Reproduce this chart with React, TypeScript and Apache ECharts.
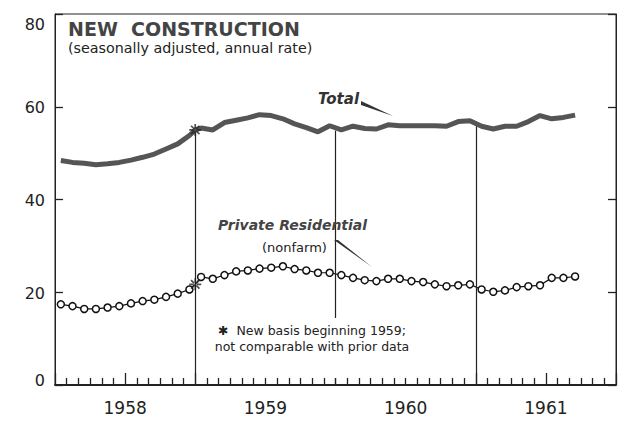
import React, { useEffect, useRef } from 'react';
import * as echarts from 'echarts';

// ---- data (billions of dollars, seasonally adjusted annual rate) ----
const yearLabels = ['1958', '1959', '1960', '1961'];
const yTickValues = [0, 20, 40, 60, 80];

const total1958 = [48.4, 48.0, 47.8, 47.5, 47.7, 48.0, 48.5, 49.1, 49.8, 50.9, 52.0, 53.8];
const total1959 = [55.4, 55.0, 56.6, 57.1, 57.6, 58.3, 58.1, 57.4, 56.3, 55.5, 54.6, 55.9];
const total1960 = [55.0, 55.8, 55.3, 55.2, 56.1, 55.9, 55.9, 55.9, 55.9, 55.8, 56.8, 57.0];
const total1961 = [55.8, 55.2, 55.8, 55.8, 56.8, 58.1, 57.4, 57.7, 58.2];
const totalNewBasis = 55.0;

const resid1958 = [17.4, 17.0, 16.4, 16.4, 16.7, 17.0, 17.6, 18.1, 18.4, 19.0, 19.7, 20.6];
const resid1959 = [23.3, 22.9, 23.7, 24.5, 24.7, 25.1, 25.3, 25.6, 25.0, 24.7, 24.2, 24.2];
const resid1960 = [23.7, 23.1, 22.6, 22.4, 22.9, 22.9, 22.4, 22.2, 21.7, 21.3, 21.5, 21.7];
const resid1961 = [20.6, 20.1, 20.4, 21.1, 21.3, 21.5, 23.1, 23.1, 23.4];
const residNewBasis = 21.7;

const newBasisMonth = 12; // boundary: start of 1959
const yearBoundaries = [12, 24, 36];

const totalValues = [...total1958, ...total1959, ...total1960, ...total1961];
const residValues = [...resid1958, ...resid1959, ...resid1960, ...resid1961];

const ASTERISK =
  'path://M-0.7,-5L0.7,-5L0.7,5L-0.7,5Z M-5,-0.7L5,-0.7L5,0.7L-5,0.7Z M3.0,4.0L4.0,3.0L-3.0,-4.0L-4.0,-3.0Z M-4.0,3.0L-3.0,4.0L4.0,-3.0L3.0,-4.0Z';

function buildSeriesData(values: number[], breakValue: number) {
  const pts: any[] = values.map((v, i) => [i + 0.5, v]);
  pts.splice(newBasisMonth, 0, { value: [newBasisMonth, breakValue], symbol: 'none' });
  return pts;
}

const FONT = '"DejaVu Sans", "Noto Sans", sans-serif';

export default function App() {
  const ref = useRef<HTMLDivElement>(null);
  useEffect(() => {
    if (!ref.current) return;
    const chart = echarts.init(ref.current, undefined, { renderer: 'svg' });

    const boundaryTop = (b: number) =>
      b === newBasisMonth ? totalNewBasis - 0.6 : (totalValues[b - 1] + totalValues[b]) / 2 - 0.6;

    const yLabelStyle = { fontFamily: FONT, fontSize: 16, color: '#222' };

    chart.setOption({
      animation: false,
      backgroundColor: '#fff',
      grid: {
        left: 55,
        right: 3,
        top: 14,
        bottom: 36,
        show: true,
        borderColor: '#222',
        borderWidth: 1,
      },
      xAxis: {
        type: 'value',
        min: 0,
        max: 48,
        interval: 6,
        axisLine: { show: true, lineStyle: { color: '#222', width: 1.8 } },
        axisTick: { show: true, inside: true, length: 12, lineStyle: { color: '#222', width: 1.3 } },
        minorTick: { show: true, splitNumber: 6, length: 7, lineStyle: { color: '#222', width: 1.3 } },
        splitLine: { show: false },
        axisLabel: {
          margin: 14,
          fontFamily: FONT,
          fontSize: 17,
          color: '#222',
          formatter: (v: number) => (v % 12 === 6 ? yearLabels[(v - 6) / 12] : ''),
        },
      },
      yAxis: [
        {
          type: 'value',
          min: 0,
          max: 80,
          interval: 20,
          axisLine: { show: true, lineStyle: { color: '#222', width: 1 } },
          axisTick: { show: true, inside: true, length: 8, lineStyle: { color: '#222', width: 1.3 } },
          splitLine: { show: false },
          axisLabel: {
            margin: 10,
            ...yLabelStyle,
            formatter: (v: number) => {
              if (!yTickValues.includes(v)) return '';
              if (v === 80) return `{top|${v}}`;
              if (v === 0) return `{bot|${v}}`;
              return `{mid|${v}}`;
            },
            rich: {
              top: { ...yLabelStyle, padding: [20, 0, 0, 0] },
              bot: { ...yLabelStyle, padding: [0, 0, 10, 0] },
              mid: { ...yLabelStyle, padding: [2, 0, 0, 0] },
            },
          },
        },
        {
          type: 'value',
          min: 0,
          max: 80,
          interval: 20,
          position: 'right',
          axisLine: { show: true, lineStyle: { color: '#222', width: 1 } },
          axisTick: { show: true, inside: true, length: 8, lineStyle: { color: '#222', width: 1.3 } },
          splitLine: { show: false },
          axisLabel: { show: false },
        },
      ],
      series: [
        {
          name: 'Private Residential',
          type: 'line',
          data: buildSeriesData(residValues, residNewBasis),
          symbol: 'circle',
          symbolSize: 7,
          showAllSymbol: true,
          itemStyle: { color: '#fff', borderColor: '#111', borderWidth: 1.5 },
          lineStyle: { color: '#111', width: 1.2 },
          z: 3,
          markLine: {
            silent: true,
            symbol: ['none', 'none'],
            label: { show: false },
            lineStyle: { color: '#222', width: 1.2, type: 'solid' },
            data: yearBoundaries.map((b) => [
              { coord: [b, 0] },
              { coord: [b, boundaryTop(b)] },
            ]),
          },
        },
        {
          name: 'Total',
          type: 'line',
          data: buildSeriesData(totalValues, totalNewBasis),
          symbol: 'none',
          lineStyle: { color: '#555', width: 5 },
          z: 4,
        },
        {
          name: 'New basis',
          type: 'scatter',
          data: [
            [newBasisMonth, totalNewBasis],
            [newBasisMonth, residNewBasis],
          ],
          symbol: ASTERISK,
          symbolSize: 12,
          itemStyle: { color: '#222' },
          z: 6,
        },
      ],
      graphic: [
        {
          type: 'text',
          x: 68,
          y: 29,
          z: 100,
          style: {
            text: 'NEW  CONSTRUCTION',
            font: `bold 19px ${FONT}`,
            fill: '#444',
            verticalAlign: 'middle',
          },
        },
        {
          type: 'text',
          x: 68,
          y: 48,
          z: 100,
          style: {
            text: '(seasonally adjusted, annual rate)',
            font: `14.3px ${FONT}`,
            fill: '#222',
            verticalAlign: 'middle',
          },
        },
        {
          type: 'text',
          x: 318,
          y: 99,
          z: 100,
          style: {
            text: 'Total',
            font: `italic bold 15px ${FONT}`,
            fill: '#333',
            verticalAlign: 'middle',
          },
        },
        {
          type: 'polygon',
          z: 100,
          shape: { points: [[361, 101], [393, 116], [361, 105]] },
          style: { fill: '#333' },
        },
        {
          type: 'text',
          x: 218,
          y: 225,
          z: 100,
          style: {
            text: 'Private Residential',
            font: `italic bold 14px ${FONT}`,
            fill: '#444',
            verticalAlign: 'middle',
          },
        },
        {
          type: 'text',
          x: 262,
          y: 247,
          z: 100,
          style: {
            text: '(nonfarm)',
            font: `13px ${FONT}`,
            fill: '#222',
            verticalAlign: 'middle',
          },
        },
        {
          type: 'polygon',
          z: 100,
          shape: { points: [[334, 240], [372, 267], [338, 240]] },
          style: { fill: '#333' },
        },
        {
          type: 'text',
          x: 312,
          y: 318,
          z: 100,
          style: {
            text: '✱  New basis beginning 1959;\nnot comparable with prior data',
            font: `12.5px ${FONT}`,
            lineHeight: 16,
            fill: '#222',
            align: 'center',
            verticalAlign: 'top',
            backgroundColor: '#fff',
            padding: [4, 4, 24, 4],
          },
        },
      ],
    });
    return () => chart.dispose();
  }, []);
  return <div ref={ref} style={{ width: 619, height: 421, position: 'fixed', left: 0, top: 0 }} />;
}
